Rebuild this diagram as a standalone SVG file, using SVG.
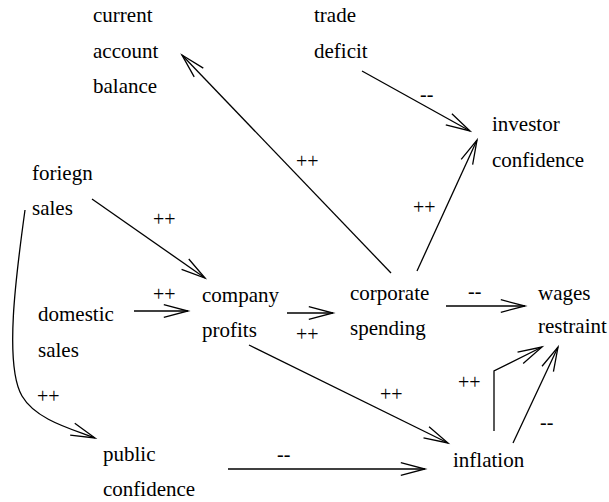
<svg xmlns="http://www.w3.org/2000/svg" width="609" height="502" viewBox="0 0 609 502">
  <style>
    .node text { font-family: "Liberation Serif", "Times New Roman", serif; font-size: 21px; fill: #000; }
    .lbl { font-family: "Liberation Serif", "Times New Roman", serif; font-size: 20px; fill: #000; }
    .edge { fill: none; stroke: #000; stroke-width: 1.3; marker-end: url(#open); }
  </style>
  <defs>
    <marker id="open" markerUnits="userSpaceOnUse" markerWidth="30" markerHeight="20" viewBox="-26 -10 30 20" refX="0" refY="0" orient="auto">
      <path d="M-24.2,-6.3 L0,0 L-24.2,6.3" fill="none" stroke="#000" stroke-width="1.3"/>
    </marker>
  </defs>
  <rect width="609" height="502" fill="#fff"/>

  <!-- connectors -->
  <g id="connectors">
    <path class="edge" d="M92,199 L205,278"/>
    <path class="edge" d="M134,311 L188,311"/>
    <path class="edge" d="M287,313 L333,313"/>
    <path class="edge" d="M391,273 L182,55"/>
    <path class="edge" d="M417,271 L477,140"/>
    <path class="edge" d="M362,71 L470,131"/>
    <path class="edge" d="M446,306 L525,306"/>
    <path class="edge" d="M249,345 L448,443"/>
    <path class="edge" d="M228,469 L425,469"/>
    <path class="edge" d="M494,431 L494,371 L542,347"/>
    <path class="edge" d="M513,443 L558,347"/>
    <path class="edge" d="M25,210 C16,275 4,365 22,396 C36,420 72,429 95,438"/>

    <text class="lbl" x="153" y="226">++</text>
    <text class="lbl" x="296" y="168">++</text>
    <text class="lbl" x="420" y="101">--</text>
    <text class="lbl" x="413" y="214">++</text>
    <text class="lbl" x="153" y="301">++</text>
    <text class="lbl" x="296" y="341">++</text>
    <text class="lbl" x="468" y="298">--</text>
    <text class="lbl" x="380" y="401">++</text>
    <text class="lbl" x="458" y="389">++</text>
    <text class="lbl" x="540" y="429">--</text>
    <text class="lbl" x="37" y="403">++</text>
    <text class="lbl" x="277" y="461">--</text>
  </g>

  <!-- nodes -->
  <g id="current_account_balance" class="node">
    <text x="93" y="21.5">current</text>
    <text x="93" y="57.5">account</text>
    <text x="93" y="93">balance</text>
  </g>
  <g id="trade_deficit" class="node">
    <text x="314" y="22">trade</text>
    <text x="314" y="58">deficit</text>
  </g>
  <g id="investor_confidence" class="node">
    <text x="492" y="131">investor</text>
    <text x="492" y="167">confidence</text>
  </g>
  <g id="foriegn_sales" class="node">
    <text x="32" y="180">foriegn</text>
    <text x="32" y="215">sales</text>
  </g>
  <g id="domestic_sales" class="node">
    <text x="38" y="321">domestic</text>
    <text x="38" y="357">sales</text>
  </g>
  <g id="company_profits" class="node">
    <text x="202" y="301.5">company</text>
    <text x="202" y="337">profits</text>
  </g>
  <g id="corporate_spending" class="node">
    <text x="350" y="300">corporate</text>
    <text x="350" y="335">spending</text>
  </g>
  <g id="wages_restraint" class="node">
    <text x="538" y="300">wages</text>
    <text x="538" y="333">restraint</text>
  </g>
  <g id="public_confidence" class="node">
    <text x="103" y="461">public</text>
    <text x="103" y="496">confidence</text>
  </g>
  <g id="inflation" class="node">
    <text x="453" y="467">inflation</text>
  </g>
</svg>
